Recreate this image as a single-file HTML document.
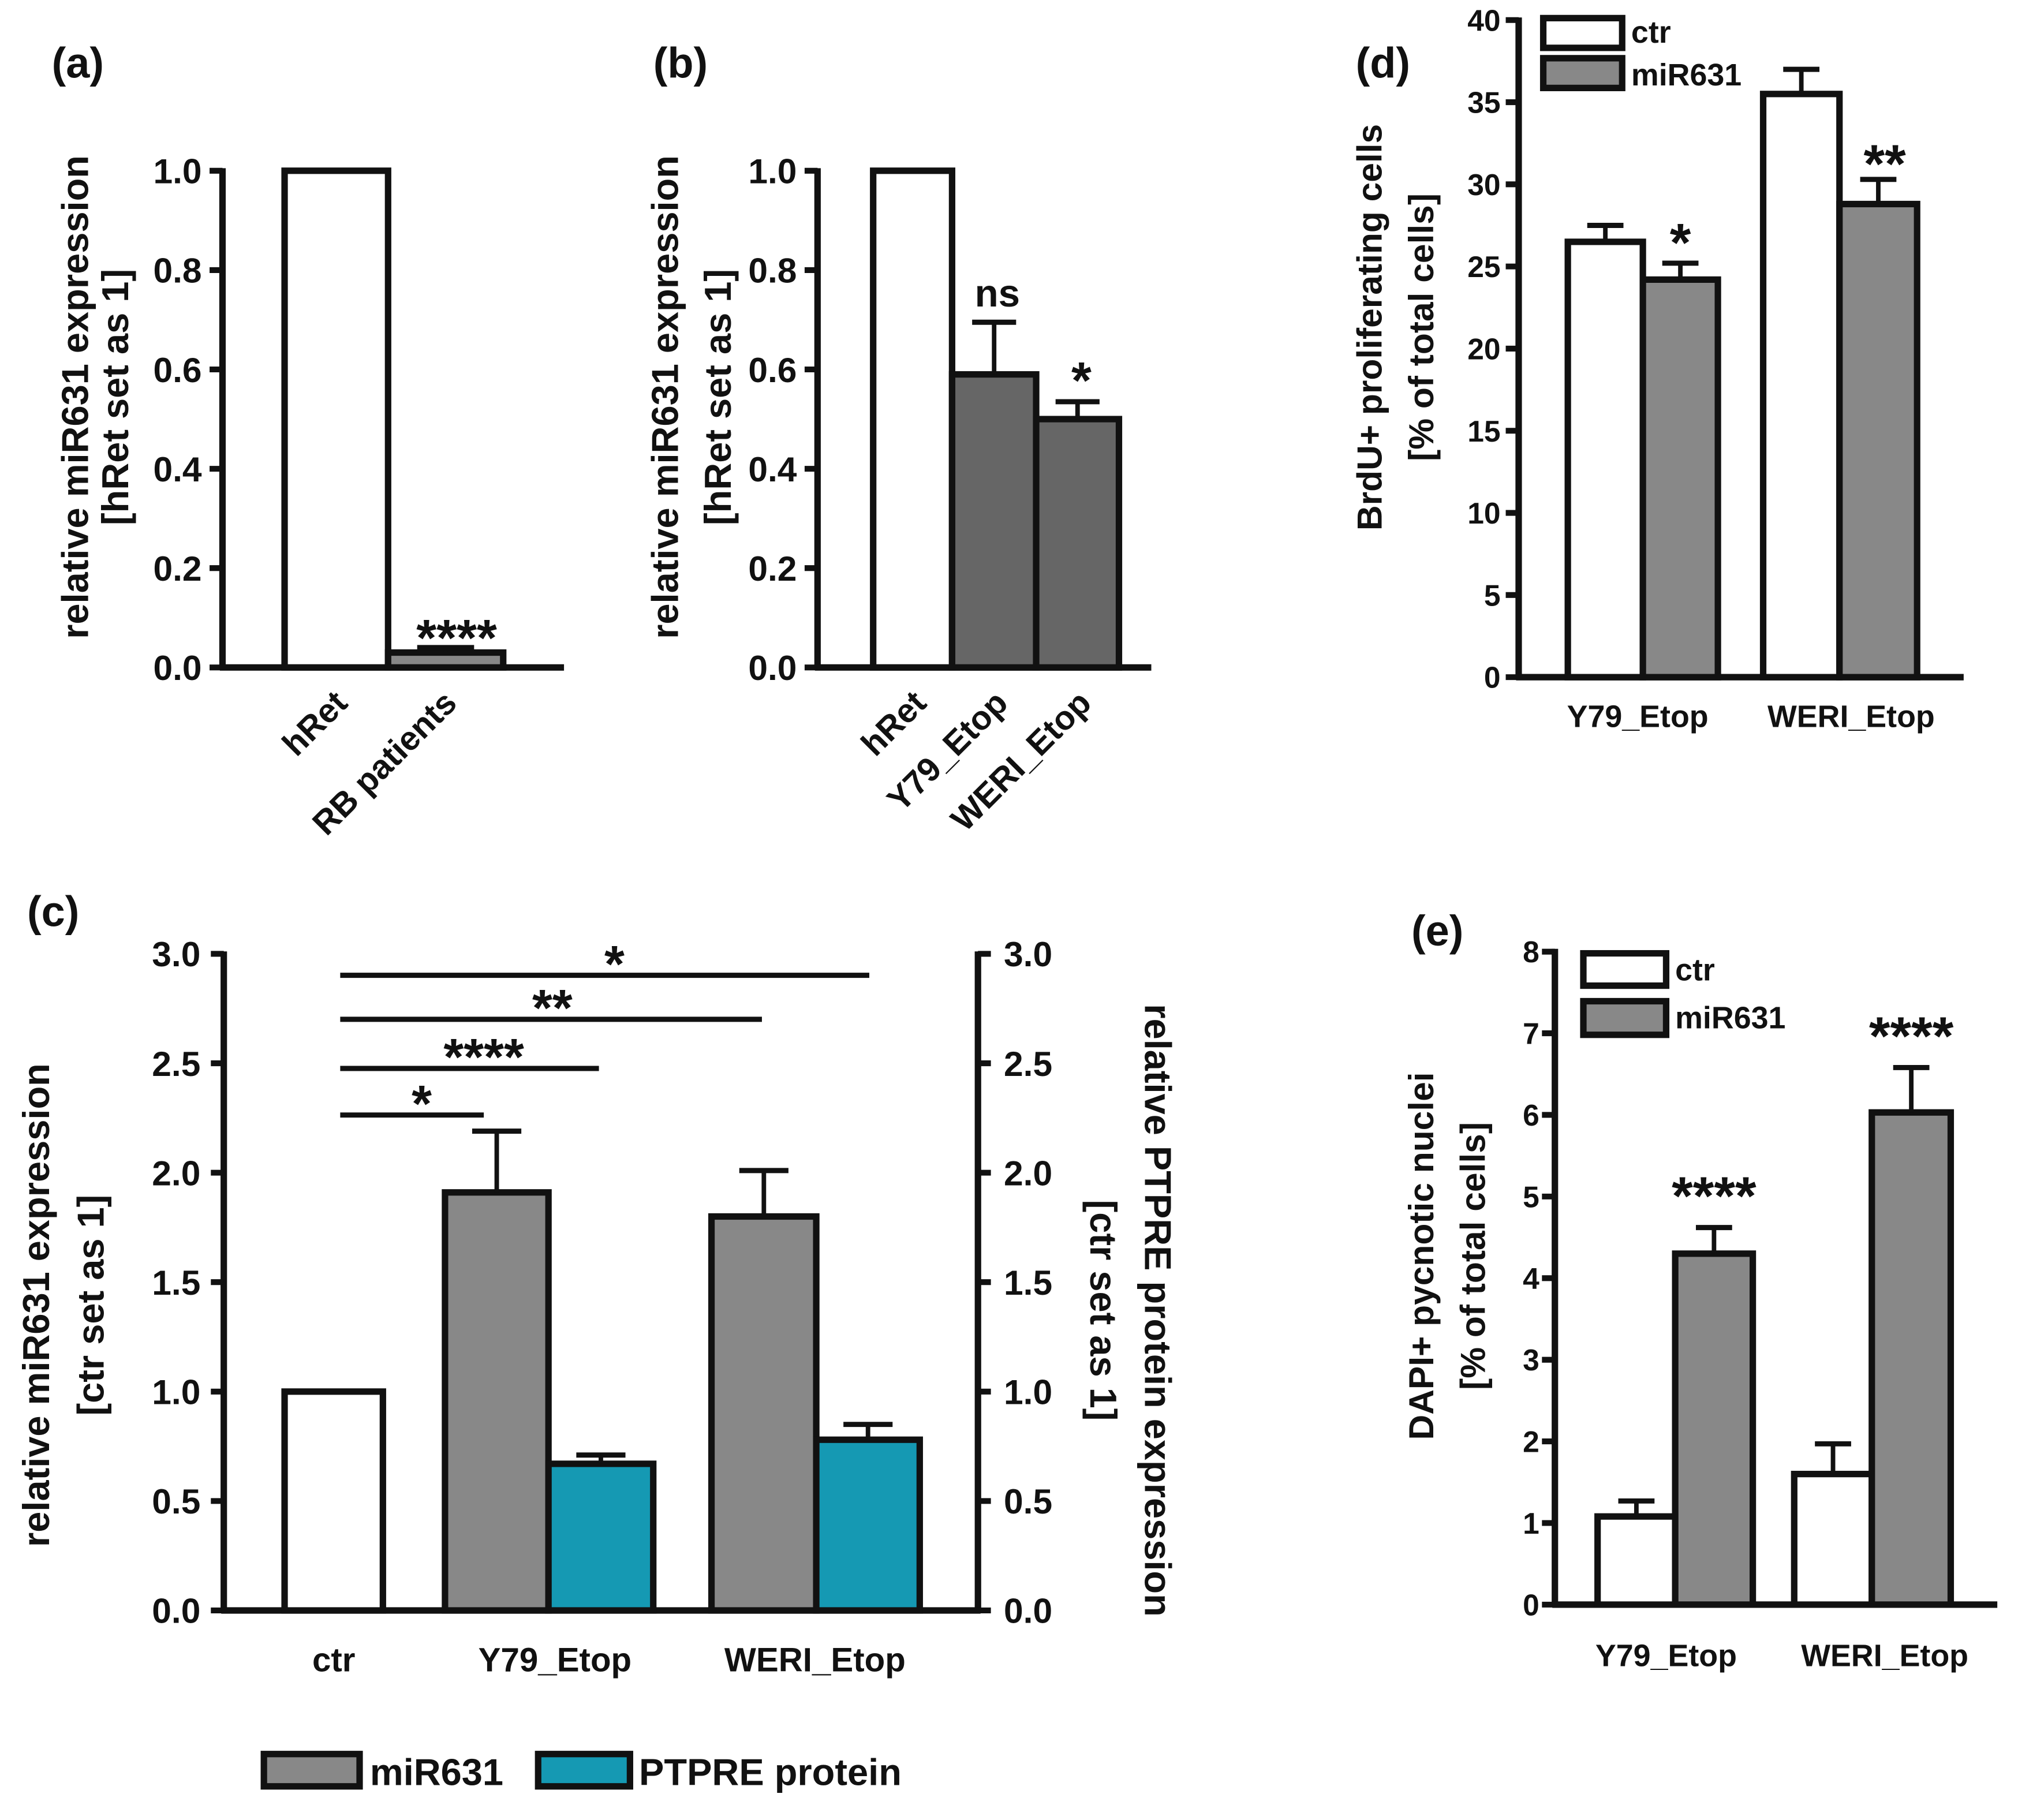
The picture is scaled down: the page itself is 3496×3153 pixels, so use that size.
<!DOCTYPE html>
<html><head><meta charset="utf-8"><style>
html,body{margin:0;padding:0;background:#fff}
svg{display:block}
text{font-family:"Liberation Sans",Arial,sans-serif;font-weight:bold;fill:#111}
</style></head><body>
<svg id="fig" width="3496" height="3153" viewBox="0 0 1560 1407" preserveAspectRatio="none"></svg>
<script>
// ---- data ----
const aCats=["hRet","RB patients"];const aVals=[1.0,0.03];const aErr=[0,0.04];
const bCats=["hRet","Y79_Etop","WERI_Etop"];const bVals=[1.0,0.59,0.50];const bErr=[0,0.695,0.535];
const abTicks=[0,0.2,0.4,0.6,0.8,1.0];
const cCats=["ctr","Y79_Etop","WERI_Etop"];const cMir=[1.0,1.91,1.80];const cMirErr=[0,2.19,2.01];
const cPtp=[null,0.67,0.78];const cPtpErr=[null,0.71,0.85];const cTicks=[0,0.5,1.0,1.5,2.0,2.5,3.0];
const dCats=["Y79_Etop","WERI_Etop"];const dCtr=[26.5,35.5];const dCtrErr=[27.5,37];const dMir=[24.2,28.8];const dMirErr=[25.2,30.3];
const dTicks=[0,5,10,15,20,25,30,35,40];
const eCats=["Y79_Etop","WERI_Etop"];const eCtr=[1.08,1.6];const eCtrErr=[1.27,1.97];const eMir=[4.3,6.03];const eMirErr=[4.62,6.58];
const eTicks=[0,1,2,3,4,5,6,7,8];

const NS="http://www.w3.org/2000/svg";const svg=document.getElementById('fig');
function el(tag,at,parent){const e=document.createElementNS(NS,tag);for(const k in at)e.setAttribute(k,at[k]);(parent||svg).appendChild(e);return e;}
function txt(s,x,y,size,anchor,rot,name){const t=el('text',{x:x,y:y,'font-size':size,'text-anchor':anchor||'middle'});if(rot)t.setAttribute('transform',`rotate(${rot} ${x} ${y})`);t.textContent=s;

return t;}
function line(x1,y1,x2,y2,w,name){const l=el('line',{x1,y1,x2,y2,stroke:'#111','stroke-width':w||4});

return l;}
function bar(x0,x1,y,y0,fill,name){const r=el('rect',{x:x0,y:y,width:x1-x0,height:y0-y,fill:fill,stroke:'#111','stroke-width':5});

return r;}
function errbar(xc,ytop,ybar,hw){line(xc,ytop,xc,ybar,3.5,'error-bar');line(xc-hw,ytop,xc+hw,ytop,4,'error-cap');}
function yaxis(x,y0,ytop,ticks,sc,fmt,side,name,fs,gap){line(x,y0+2,x,ytop-2,5,name+'-line');
ticks.forEach(t=>{const y=sc(t);if(side==='r'){line(x,y,x+10,y,4.5,'tick');txt(fmt(t),x+gap,y+fs*0.36,fs,'start',0,name+'-tick-label');}else{line(x-10,y,x,y,4.5,'tick');txt(fmt(t),x-gap,y+fs*0.36,fs,'end',0,name+'-tick-label');}});}
const f1=v=>v.toFixed(1),f0=v=>String(v);

// ---- panel a ----
{const sc=v=>516-v*384;txt('(a)',40,60,33,'start',0,'panel-a-label');
yaxis(172,516,132,abTicks,sc,f1,'l','a-y-axis',27,16);line(170,516,436,516,5,'a-x-axis');
const xs=[[220,300],[300,389]];
aVals.forEach((v,i)=>{bar(xs[i][0],xs[i][1],sc(v),516,i===0?'#fff':'#888','a-bar-'+i);if(aErr[i])errbar((xs[i][0]+xs[i][1])/2,sc(aErr[i]),sc(v),22);
txt(aCats[i],(xs[i][0]+xs[i][1])/2+10,545,26,'end',-45,'a-x-label');});
txt('****',353,507,40,'middle',0,'a-sig');
txt('relative miR631 expression',68,307,29,'middle',-90,'a-y-title');txt('[hRet set as 1]',99,307,29,'middle',-90,'a-y-title-2');}

// ---- panel b ----
{const sc=v=>516-v*384;txt('(b)',505,60,33,'start',0,'panel-b-label');
yaxis(632,516,132,abTicks,sc,f1,'l','b-y-axis',27,16);line(630,516,890,516,5,'b-x-axis');
const xs=[[675,736],[736,801],[801,865]];const fills=['#fff','#666','#666'];
bVals.forEach((v,i)=>{bar(xs[i][0],xs[i][1],sc(v),516,fills[i],'b-bar-'+i);if(bErr[i])errbar((xs[i][0]+xs[i][1])/2,sc(bErr[i]),sc(v),17);
txt(bCats[i],(xs[i][0]+xs[i][1])/2+12,545,26,'end',-45,'b-x-label');});
txt('ns',771,237,30,'middle',0,'b-sig');txt('*',836,308,40,'middle',0,'b-sig');
txt('relative miR631 expression',524,307,29,'middle',-90,'b-y-title');txt('[hRet set as 1]',565,307,29,'middle',-90,'b-y-title-2');}

// ---- panel d ----
{const sc=v=>523.5-v*12.7;txt('(d)',1048,60,33,'start',0,'panel-d-label');
yaxis(1174,523.5,15.5,dTicks,sc,f0,'l','d-y-axis',23,14);line(1172,523.5,1518,523.5,5,'d-x-axis');
const cx=[[1212,1270,1328],[1363,1422,1482]];
dCats.forEach((c,i)=>{const g=cx[i];bar(g[0],g[1],sc(dCtr[i]),523.5,'#fff','d-bar-ctr');bar(g[1],g[2],sc(dMir[i]),523.5,'#888','d-bar-mir');
errbar((g[0]+g[1])/2,sc(dCtrErr[i]),sc(dCtr[i]),14);errbar((g[1]+g[2])/2,sc(dMirErr[i]),sc(dMir[i]),14);
txt(c,i===0?1266:1431,562,24,'middle',0,'d-x-label');});
txt('*',1299,202,42,'middle',0,'d-sig');txt('**',1457,141,42,'middle',0,'d-sig');
bar(1193,1254,14,37,'#fff','d-legend-ctr-swatch');txt('ctr',1261,33,24,'start',0,'d-legend-ctr');
bar(1193,1254,45,68,'#888','d-legend-mir-swatch');txt('miR631',1261,66,24,'start',0,'d-legend-mir');
txt('BrdU+ proliferating cells',1068,253,27,'middle',-90,'d-y-title');txt('[% of total cells]',1108,253,27,'middle',-90,'d-y-title-2');}

// ---- panel c ----
{const sc=v=>1245-v*169.2;txt('(c)',21,716,33,'start',0,'panel-c-label');
yaxis(173,1245,737.5,cTicks,sc,f1,'l','c-y-axis',27,18);yaxis(756,1245,737.5,cTicks,sc,f1,'r','c-y2-axis',27,20);line(171,1245,758,1245,5,'c-x-axis');
const g=[[220,296,null],[344,424,505],[550,631,711]];
cCats.forEach((c,i)=>{const p=g[i];bar(p[0],p[1],sc(cMir[i]),1245,i===0?'#fff':'#888','c-bar-mir');
if(cMirErr[i])errbar((p[0]+p[1])/2,sc(cMirErr[i]),sc(cMir[i]),19);
if(cPtp[i]!==null){bar(p[1],p[2],sc(cPtp[i]),1245,'#1599b3','c-bar-ptpre');errbar((p[1]+p[2])/2,sc(cPtpErr[i]),sc(cPtp[i]),19);}
txt(c,[258,429,630][i],1292,26,'middle',0,'c-x-label');});
[[754,672,'*',475],[788,589,'**',427],[826,463,'****',374],[862,374,'*',326]].forEach(s=>{line(263,s[0],s[1],s[0],4,'c-sig-line');txt(s[2],s[3],s[0]+5,40,'middle',0,'c-sig');});
bar(204,278,1356,1381,'#888','c-legend-mir-swatch');txt('miR631',286,1380,29,'start',0,'c-legend-mir');
bar(416,487,1356,1381,'#1599b3','c-legend-ptpre-swatch');txt('PTPRE protein',494,1380,29,'start',0,'c-legend-ptpre');
txt('relative miR631 expression',38,1009,29,'middle',-90,'c-y-title');txt('[ctr set as 1]',80,1009,29,'middle',-90,'c-y-title-2');
txt('relative PTPRE protein expression',885,1013,29,'middle',90,'c-y2-title');txt('[ctr set as 1]',843,1013,29,'middle',90,'c-y2-title-2');}

// ---- panel e ----
{const sc=v=>1240.5-v*63.1;txt('(e)',1091,731,33,'start',0,'panel-e-label');
yaxis(1202,1240.5,735.5,eTicks,sc,f0,'l','e-y-axis',23,12);line(1200,1240.5,1544,1240.5,5,'e-x-axis');
const cx=[[1235,1295,1355],[1387,1447,1508]];
eCats.forEach((c,i)=>{const g=cx[i];bar(g[0],g[1],sc(eCtr[i]),1240.5,'#fff','e-bar-ctr');bar(g[1],g[2],sc(eMir[i]),1240.5,'#888','e-bar-mir');
errbar((g[0]+g[1])/2,sc(eCtrErr[i]),sc(eCtr[i]),14);errbar((g[1]+g[2])/2,sc(eMirErr[i]),sc(eMir[i]),14);
txt('****',(g[1]+g[2])/2,sc(eMirErr[i])-10,42,'middle',0,'e-sig');
txt(c,i===0?1288:1457,1288,24,'middle',0,'e-x-label');});
bar(1224,1288,737,762,'#fff','e-legend-ctr-swatch');txt('ctr',1295,758,24,'start',0,'e-legend-ctr');
bar(1224,1288,774,800,'#888','e-legend-mir-swatch');txt('miR631',1295,795,24,'start',0,'e-legend-mir');
txt('DAPI+ pycnotic nuclei',1108,971,27,'middle',-90,'e-y-title');txt('[% of total cells]',1148,971,27,'middle',-90,'e-y-title-2');}
</script>
</body></html>
